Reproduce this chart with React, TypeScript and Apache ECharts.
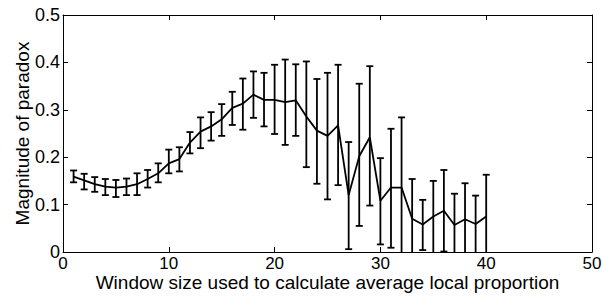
import React, { useEffect, useRef } from "react";
import * as echarts from "echarts";

const windowSizes = [1, 2, 3, 4, 5, 6, 7, 8, 9, 10, 11, 12, 13, 14, 15, 16, 17, 18, 19, 20, 21, 22, 23, 24, 25, 26, 27, 28, 29, 30, 31, 32, 33, 34, 35, 36, 37, 38, 39, 40];
const means = [0.159, 0.151, 0.143, 0.138, 0.136, 0.138, 0.143, 0.154, 0.166, 0.187, 0.196, 0.231, 0.254, 0.265, 0.280, 0.304, 0.313, 0.332, 0.321, 0.321, 0.316, 0.320, 0.286, 0.256, 0.245, 0.267, 0.120, 0.202, 0.242, 0.108, 0.136, 0.136, 0.070, 0.058, 0.075, 0.087, 0.057, 0.069, 0.059, 0.075];
const upper = [0.172, 0.165, 0.158, 0.154, 0.152, 0.155, 0.166, 0.173, 0.187, 0.216, 0.221, 0.253, 0.284, 0.295, 0.312, 0.338, 0.366, 0.381, 0.378, 0.395, 0.406, 0.396, 0.402, 0.365, 0.378, 0.395, 0.232, 0.355, 0.392, 0.198, 0.260, 0.284, 0.154, 0.110, 0.150, 0.173, 0.123, 0.145, 0.119, 0.163];
const lower = [0.147, 0.132, 0.127, 0.120, 0.116, 0.120, 0.120, 0.136, 0.147, 0.166, 0.170, 0.208, 0.219, 0.235, 0.245, 0.268, 0.258, 0.283, 0.265, 0.249, 0.226, 0.245, 0.179, 0.144, 0.111, 0.141, 0.006, 0.055, 0.098, 0.016, 0.009, -0.012, -0.014, 0.004, -0.002, 0.001, -0.009, -0.007, -0.003, -0.013];

const xTitle = "Window size used to calculate average local proportion";
const yTitle = "Magnitude of paradox";

const FONT = "Liberation Sans";

export default function App() {
  const ref = useRef<HTMLDivElement>(null);
  useEffect(() => {
    if (!ref.current) return;
    const chart = echarts.init(ref.current, null, { renderer: "svg" });
    const lineData = windowSizes.map((x, i) => [x, means[i]]);
    const errData = windowSizes.map((x, i) => [x, lower[i], upper[i]]);
    const axisLine = { show: true, onZero: false, lineStyle: { color: "#000", width: 1 } };
    const axisTick = { show: true, inside: true, length: 5, lineStyle: { color: "#000", width: 1 } };
    chart.setOption({
      animation: false,
      backgroundColor: "#fff",
      grid: { left: 63, right: 11, top: 15, bottom: 45, outerBoundsMode: "none", containLabel: false },
      xAxis: [
        {
          type: "value", position: "bottom", min: 0, max: 50, interval: 10,
          axisLine, axisTick, splitLine: { show: false },
          axisLabel: { color: "#000", fontFamily: FONT, fontSize: 17, lineHeight: 12, margin: 5 },
          name: xTitle, nameLocation: "middle", nameGap: 22, nameMoveOverlap: false,
          nameTextStyle: { color: "#000", fontFamily: FONT, fontSize: 19, lineHeight: 16 },
        },
        {
          type: "value", position: "top", min: 0, max: 50, interval: 10,
          axisLine, axisTick, splitLine: { show: false }, axisLabel: { show: false },
        },
      ],
      yAxis: [
        {
          type: "value", position: "left", min: 0, max: 0.5, interval: 0.1,
          axisLine, axisTick, splitLine: { show: false },
          axisLabel: { color: "#000", fontFamily: FONT, fontSize: 18, lineHeight: 12, margin: 3 },
          name: yTitle, nameLocation: "middle", nameGap: 31, nameRotate: 90, nameMoveOverlap: false,
          nameTextStyle: { color: "#000", fontFamily: FONT, fontSize: 19 },
        },
        {
          type: "value", position: "right", min: 0, max: 0.5, interval: 0.1,
          axisLine, axisTick, splitLine: { show: false }, axisLabel: { show: false },
        },
      ],
      series: [
        {
          type: "line",
          data: lineData,
          showSymbol: false,
          lineStyle: { color: "#000", width: 1.8 },
          itemStyle: { color: "#000" },
          z: 3,
        },
        {
          type: "custom",
          clip: true,
          data: errData,
          renderItem: (params: any, api: any) => {
            const x = api.value(0);
            const lo = api.coord([x, api.value(1)]);
            const hi = api.coord([x, api.value(2)]);
            const hw = 3.5;
            const style = { stroke: "#000", lineWidth: 1.8, fill: "none" };
            return {
              type: "group",
              children: [
                { type: "line", shape: { x1: hi[0], y1: hi[1], x2: lo[0], y2: lo[1] }, style },
                { type: "line", shape: { x1: hi[0] - hw, y1: hi[1], x2: hi[0] + hw, y2: hi[1] }, style },
                { type: "line", shape: { x1: lo[0] - hw, y1: lo[1], x2: lo[0] + hw, y2: lo[1] }, style },
              ],
            };
          },
          z: 2,
        },
      ],
    });
    return () => chart.dispose();
  }, []);
  return <div ref={ref} style={{ position: "fixed", left: 0, top: 0, width: 603, height: 297 }} />;
}
